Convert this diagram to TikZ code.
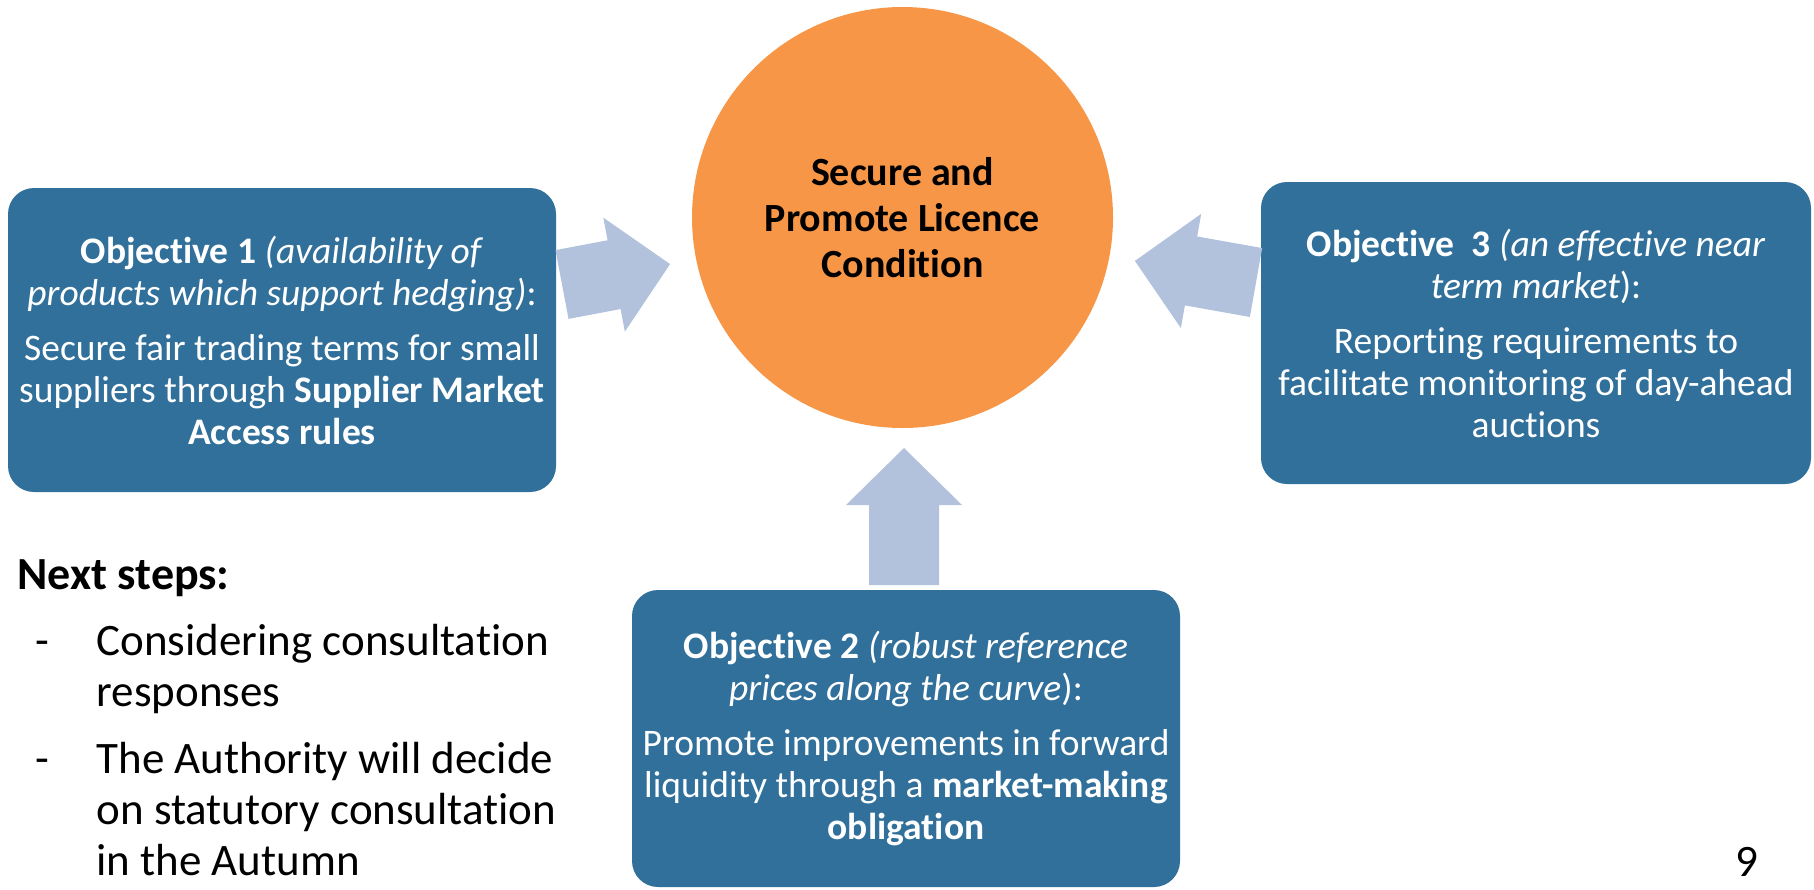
\documentclass[tikz,border=0pt]{standalone}
\usepackage{fontspec}
\setmainfont{Carlito}[Ligatures=NoCommon]
\definecolor{boxblue}{HTML}{31709A}
\definecolor{arrowblue}{HTML}{B2C2DD}
\definecolor{goalorange}{HTML}{F79646}
% block arrow: base point, canvas angle, total length
\newcommand\blockarrow[3]{%
  \fill[arrowfill,shift={#1},rotate=#2]
    (0,-35) -- ({#3-57},-35) -- ({#3-57},-58) -- (#3,0)
    -- ({#3-57},58) -- ({#3-57},35) -- (0,35) -- cycle;}
\begin{document}
\begin{tikzpicture}[x=1pt,y=-1pt,
  objbox/.style={fill=boxblue, rounded corners=26pt, text=white,
    align=center, inner sep=0pt,
    font=\fontsize{37.5}{42}\selectfont},
  goal/.style={circle, fill=goalorange, minimum size=421pt, inner sep=0pt,
    align=center, font=\bfseries\fontsize{40}{46}\selectfont},
  arrowfill/.style={fill=arrowblue},
  stepline/.style={anchor=base west, font=\fontsize{45}{51}\selectfont},
]
\useasboundingbox (0,0) rectangle (1814,889);

% central goal
\node[goal] (goal) at (902.5,217.5) {Secure and\\ Promote Licence\\ Condition};

% the three objectives
\node[objbox, minimum width=548pt, minimum height=304pt] (obj1) at (282,340)
  {\textbf{Objective 1} \textit{(availability of}\\
   \textit{products which support hedging)}:\\[13pt]
   Secure fair trading terms for small\\
   suppliers through \textbf{Supplier Market}\\
   \textbf{Access rules}};
\node[objbox, minimum width=550pt, minimum height=302pt] (obj3) at (1536,333)
  {\textbf{Objective\ \ 3} \textit{(an effective near}\\
   \textit{term market}):\\[13pt]
   Reporting requirements to\\
   facilitate monitoring of day-ahead\\
   auctions};
\node[objbox, minimum width=548pt, minimum height=297pt] (obj2) at (906,738.5)
  {\textbf{Objective 2} \textit{(robust reference}\\
   \textit{prices along the curve}):\\[13pt]
   Promote improvements in forward\\
   liquidity through a \textbf{market-making}\\
   \textbf{obligation}};

% arrows from the objectives into the goal
\blockarrow{(562,284.5)}{10.7}{110}
\blockarrow{(1256,282.5)}{169.9}{123}
\blockarrow{(904,585)}{90}{137}

% next steps
\node[stepline, font=\bfseries\fontsize{46}{51}\selectfont] (nexthead) at (14,589) {Next steps:};
\node[stepline] (dash1) at (32,655) {-};
\node[stepline] (s1a) at (93,655) {Considering consultation};
\node[stepline] (s1b) at (93,706) {responses};
\node[stepline] (dash2) at (32,773) {-};
\node[stepline] (s2a) at (93,773) {The Authority will decide};
\node[stepline] (s2b) at (93,824) {on statutory consultation};
\node[stepline] (s2c) at (93,875) {in the Autumn};

% page number
\node[anchor=base, font=\fontsize{45}{50}\selectfont] (page) at (1747,876) {9};
\end{tikzpicture}
\end{document}
